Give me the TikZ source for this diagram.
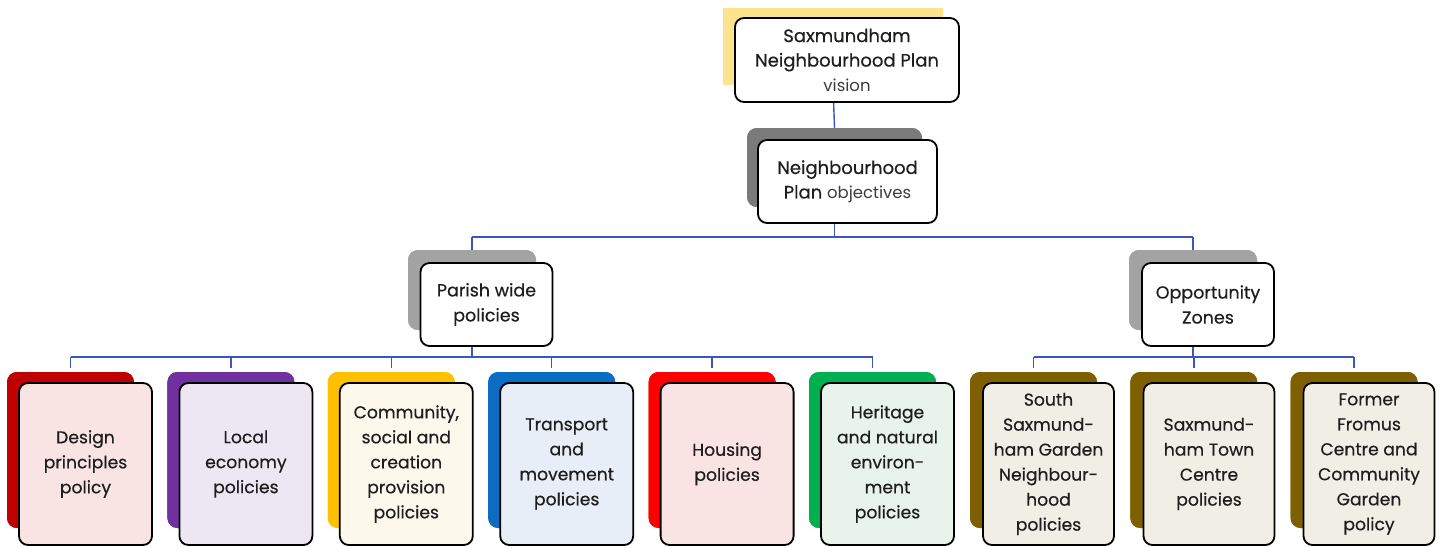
\documentclass[tikz,border=0pt]{standalone}
\usepackage{fontspec}
\setmainfont{Poppins}
\newfontfamily\medfont{Poppins}[FakeBold=0.45]
\definecolor{conncol}{HTML}{3A56C4}
\definecolor{txt}{HTML}{1E1E1E}
\definecolor{subtxt}{HTML}{3C3C3C}
\definecolor{cyel}{HTML}{FCE38E}
\definecolor{cgrayd}{HTML}{7A7A7A}
\definecolor{cgrayl}{HTML}{A3A3A3}
\definecolor{cdes}{HTML}{C00000}
\definecolor{cloc}{HTML}{7030A0}
\definecolor{ccom}{HTML}{FFC000}
\definecolor{ctra}{HTML}{0A6CC2}
\definecolor{chou}{HTML}{FF0000}
\definecolor{cher}{HTML}{00B050}
\definecolor{copp}{HTML}{7F6000}
\definecolor{fdes}{HTML}{F8E4E3}
\definecolor{floc}{HTML}{EDE7F3}
\definecolor{fcom}{HTML}{FDF8EC}
\definecolor{ftra}{HTML}{E7EEF7}
\definecolor{fhou}{HTML}{FAE3E3}
\definecolor{fher}{HTML}{E7F3EB}
\definecolor{fopp}{HTML}{F1EEE5}
\tikzset{
  x=1pt, y=1pt,
  conn/.style={draw=conncol, line width=1.4pt},
  backbox/.style={draw=none, rounded corners=10pt, inner sep=0pt, outer sep=0pt},
  frontbox/.style={draw=black, line width=1.8pt, rounded corners=9pt, inner sep=0pt, outer sep=0pt,
    align=center, text=txt, font=\medfont\fontsize{17.2}{25}\selectfont},
  topbox/.style={frontbox, fill=white, font=\medfont\fontsize{18}{24.5}\selectfont},
  lowback/.style={backbox, minimum width=127pt, minimum height=156pt},
  lowfront/.style={frontbox, minimum width=133pt, minimum height=162pt},
  midback/.style={backbox, fill=cgrayl, minimum width=128pt, minimum height=80pt},
  midfront/.style={frontbox, fill=white, minimum width=132pt, minimum height=83pt, font=\medfont\fontsize{17.5}{25}\selectfont},
}
\begin{document}
\begin{tikzpicture}
\useasboundingbox (0,0) rectangle (1442,-547);
\fill[white] (0,0) rectangle (1442,-547);
% coordinates for buses
\coordinate (busT) at (0,-237);
\coordinate (busL) at (0,-357);
% back boxes (named) - positions
\path
  (833,-46.5) node[backbox, fill=cyel, rounded corners=2pt, minimum width=220pt, minimum height=77pt] (visb) {}
  (834.5,-167.5) node[backbox, fill=cgrayd, minimum width=175pt, minimum height=79pt] (objb) {}
  (472,-290) node[midback] (parb) {}
  (1193,-290) node[midback] (oppb) {};
\foreach \i/\c in {1/cdes,2/cloc,3/ccom,4/ctra,5/chou,6/cher}{
  \path (70.5+160.4*\i-160.4,-450) node[lowback, fill=\c] (l\i b) {};
}
\foreach \i in {1,2,3}{
  \path (1033.5+160.3*\i-160.3,-450) node[lowback, fill=copp] (r\i b) {};
}
% connectors (behind front boxes)
\draw[conn] (visb.south) -- (objb.north);
\draw[conn] (objb.south) -- (objb.south |- busT);
\draw[conn] (parb.north |- busT) -- (oppb.north |- busT);
\draw[conn] (parb.north |- busT) -- (parb.north);
\draw[conn] (oppb.north |- busT) -- (oppb.north);
\draw[conn] (parb.south) -- (parb.south |- busL);
\draw[conn] (l1b.north |- busL) -- (l6b.north |- busL);
\foreach \i in {1,...,6}{
  \draw[conn] (l\i b.north |- busL) -- ([yshift=4pt]l\i b.north);
}
\draw[conn] (oppb.south) -- (oppb.south |- busL);
\draw[conn] (r1b.north |- busL) -- (r3b.north |- busL);
\foreach \i in {1,2,3}{
  \draw[conn] (r\i b.north |- busL) -- ([yshift=4pt]r\i b.north);
}
% redraw back boxes above connectors
\fill[cyel] (visb.south west) rectangle (visb.north east);
\foreach \n/\c in {objb/cgrayd,parb/cgrayl,oppb/cgrayl}{
  \fill[\c, rounded corners=10pt] (\n.south west) rectangle (\n.north east);
}
\foreach \i/\c in {1/cdes,2/cloc,3/ccom,4/ctra,5/chou,6/cher}{
  \fill[\c, rounded corners=10pt] (l\i b.south west) rectangle (l\i b.north east);
}
\foreach \i in {1,2,3}{
  \fill[copp, rounded corners=10pt] (r\i b.south west) rectangle (r\i b.north east);
}
% front boxes
\node[topbox, minimum width=224pt, minimum height=84pt] (vis) at (847,-60)
  {Saxmundham\\Neighbourhood Plan\\{\normalfont\color{subtxt}\fontsize{16.5}{24.5}\selectfont vision}};
\node[topbox, minimum width=179pt, minimum height=83pt] (obj) at (847.5,-181.5)
  {Neighbourhood\\Plan {\normalfont\color{subtxt}\fontsize{16.5}{24.5}\selectfont objectives}};
\node[midfront] (par) at (486.5,-304.5) {Parish wide\\policies};
\node[midfront] (opp) at (1208,-304.5) {Opportunity\\Zones};
\node[lowfront, fill=fdes] (l1) at (85.5,-464) {Design\\principles\\policy};
\node[lowfront, fill=floc] (l2) at (245.9,-464) {Local\\economy\\policies};
\node[lowfront, fill=fcom] (l3) at (406.3,-464) {Community,\\social and\\creation\\provision\\policies};
\node[lowfront, fill=ftra] (l4) at (566.7,-464) {Transport\\and\\movement\\policies};
\node[lowfront, fill=fhou] (l5) at (727.1,-464) {Housing\\policies};
\node[lowfront, fill=fher] (l6) at (887.5,-464) {Heritage\\and natural\\environ-\\ment\\policies};
\node[lowfront, fill=fopp, minimum width=131pt] (r1) at (1048.5,-464) {South\\Saxmund-\\ham Garden\\Neighbour-\\hood\\policies};
\node[lowfront, fill=fopp, minimum width=131pt] (r2) at (1209,-464) {Saxmund-\\ham Town\\Centre\\policies};
\node[lowfront, fill=fopp, minimum width=131pt] (r3) at (1369,-464) {Former\\Fromus\\Centre and\\Community\\Garden\\policy};
\end{tikzpicture}
\end{document}
